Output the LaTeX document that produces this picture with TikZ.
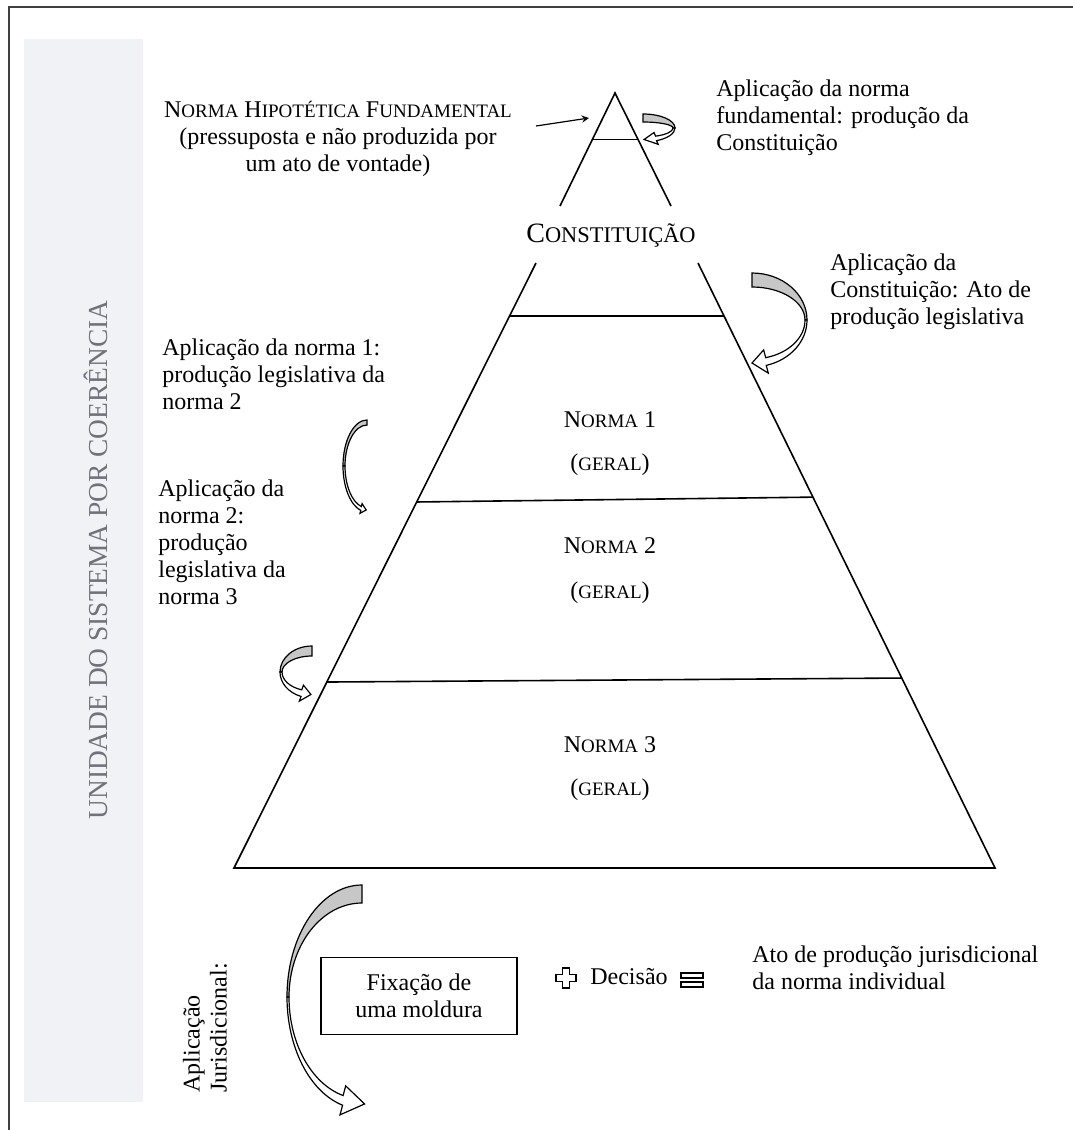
\documentclass[tikz,border=0pt]{standalone}
\usepackage{fontspec}
\setmainfont{Liberation Serif}
\usepackage{tikz}
\usetikzlibrary{arrows, calc, positioning}

\definecolor{bandgray}{RGB}{241,242,246}
\definecolor{textgray}{RGB}{112,114,122}
\definecolor{framegray}{RGB}{64,64,64}

% fake small capitals
\newcommand{\smc}[1]{{\fontsize{9.5}{10}\selectfont #1}}
\newcommand{\bigsmc}[1]{{\fontsize{11.2}{12}\selectfont #1}}

% curved block arrow: #1 centre, #2 mirror, #3/#4 radii, #5 back width,
% #6 front width, #7 head angle, #8 wing size, #9 tip angle
\newcommand{\curvedarrow}[9]{%
  \begin{scope}[shift={#1}, xscale=#2, yscale=-1]
    \pgfmathsetmacro{\ra}{#3}\pgfmathsetmacro{\rb}{#4}
    \pgfmathsetmacro{\ia}{#3-2}\pgfmathsetmacro{\ib}{#4-#5}
    \pgfmathsetmacro{\jb}{#4-#6}
    \pgfmathsetmacro{\oa}{#3+#8}\pgfmathsetmacro{\ob}{#4+#8}
    \pgfmathsetmacro{\wa}{#3-2-#8}\pgfmathsetmacro{\wb}{#4-#6-#8}
    \pgfmathsetmacro{\ma}{#3-1}\pgfmathsetmacro{\mb}{#4-#6/2}
    \filldraw[arrowback] (90:\ra\space and \rb)
      arc[start angle=90, end angle=180, x radius=\ra, y radius=\rb]
      -- (180:\ia\space and \ib)
      arc[start angle=180, end angle=90, x radius=\ia, y radius=\ib] -- cycle;
    \filldraw[arrowfront] (180:\ra\space and \rb)
      arc[start angle=180, end angle=#7, x radius=\ra, y radius=\rb]
      -- (#7:\oa\space and \ob)
      -- (#9:\ma\space and \mb)
      -- (#7:\wa\space and \wb)
      -- (#7:\ia\space and \jb)
      arc[start angle=#7, end angle=180, x radius=\ia, y radius=\jb] -- cycle;
  \end{scope}}

\begin{document}
\begin{tikzpicture}[x=0.5pt, y=-0.5pt,
    every node/.style={inner sep=0pt, font=\fontsize{12}{13.5}\selectfont},
    note/.style={align=left, anchor=west},
    pyr/.style={line width=0.8pt},
    arrowback/.style={fill=black!22, draw=black, line width=0.6pt},
    arrowfront/.style={fill=white, draw=black, line width=0.6pt},
    box/.style={draw, line width=0.8pt, minimum width=98pt, minimum height=38.5pt, align=center},
    sign/.style={draw, fill=white, line width=0.6pt},
    arrow/.style={->, >=stealth, line width=0.6pt}
]
\useasboundingbox (0,0) rectangle (1072,1130);

% Frame and side band
\fill[bandgray] (24,39) rectangle (143,1102);
\draw[line width=1.2pt, framegray] (1074,7) -- (9,7) -- (9,1132);
\node[rotate=90, text=textgray, font=\fontsize{13.7}{15}\selectfont] (unidade) at (96,560)
  {UNIDADE DO SISTEMA POR COERÊNCIA};

% Small pyramid
\coordinate (apex) at (615,93);
\coordinate (al) at (560,206);
\coordinate (ar) at (671,206);
\draw[pyr] (al) -- (apex) -- (ar);
\draw[pyr] ($(apex)!0.41!(al)$) -- ($(apex)!0.41!(ar)$);

% Big pyramid
\coordinate (tl) at (536,263);
\coordinate (tr) at (698,263);
\coordinate (bl) at (234,868);
\coordinate (br) at (995,868);
\draw[pyr] (tl) -- (bl) -- (br) -- (tr);
\draw[pyr] ($(tl)!0.0876!(bl)$) -- ($(tr)!0.0876!(br)$);
\draw[pyr] ($(tl)!0.395!(bl)$) -- ($(tr)!0.387!(br)$);
\draw[pyr] ($(tl)!0.6926!(bl)$) -- ($(tr)!0.686!(br)$);

% Nodes
\node[align=center] (nhf) at (338,139)
  {N\smc{ORMA} H\smc{IPOTÉTICA} F\smc{UNDAMENTAL}\\(pressuposta e não produzida por\\um ato de vontade)};
\node (constituicao) at (611,236) {\fontsize{14}{15}\selectfont C\bigsmc{ONSTITUIÇÃO}};
\node (norma1) at (610,420) {N\smc{ORMA} 1};
\node (geral1) at (610,465) {(\smc{GERAL})};
\node (norma2) at (610,546) {N\smc{ORMA} 2};
\node (geral2) at (610,593) {(\smc{GERAL})};
\node (norma3) at (610,745) {N\smc{ORMA} 3};
\node (geral3) at (610,790) {(\smc{GERAL})};

\node[note] (fundamental) at (716,118) {Aplicação da norma\\fundamental: produção da\\Constituição};
\node[note] (aplconst) at (830,292) {Aplicação da\\Constituição: Ato de\\produção legislativa};
\node[note] (apln1) at (162,374) {Aplicação da norma 1:\\produção legislativa da\\norma 2};
\node[note] (apln2) at (158,542) {Aplicação da\\norma 2:\\produção\\legislativa da\\norma 3};
\node[note, rotate=90] (jurisd) at (205,1093) {Aplicação\\Jurisdicional:};

\node[box] (moldura) at (419,996) {Fixação de\\uma moldura};
\node (decisao) at (629,977) {Decisão};
\node[note] (atojur) at (752,968) {Ato de produção jurisdicional\\da norma individual};

% Signs
\coordinate (plus) at (566,978);
\draw[sign] (plus) ++(-3.5,-10) -- ++(7,0) -- ++(0,6.5) -- ++(6.5,0) -- ++(0,7) -- ++(-6.5,0)
  -- ++(0,6.5) -- ++(-7,0) -- ++(0,-6.5) -- ++(-6.5,0) -- ++(0,-7) -- ++(6.5,0) -- cycle;
\coordinate (equals) at (692,980);
\draw[sign] (equals) ++(-11,-7) rectangle ++(22,5);
\draw[sign] (equals) ++(-11,2) rectangle ++(22,5);

% Arrows
\coordinate (nhfout) at (536,126);
\coordinate (apexin) at (589,118);
\draw[arrow] (nhfout) -- (apexin);

\curvedarrow{(643,128)}{-1}{32}{14}{8}{5}{245}{4}{268}
\curvedarrow{(752,320)}{-1}{55}{47}{14}{8}{255}{8}{270}
\curvedarrow{(367,466)}{1}{24}{46}{5}{4}{255}{3}{268}
\curvedarrow{(312,672)}{1}{32}{26}{10}{7}{250}{5}{268}
\curvedarrow{(362,997)}{1}{75}{112}{18}{10}{255}{10}{272}

\end{tikzpicture}
\end{document}
